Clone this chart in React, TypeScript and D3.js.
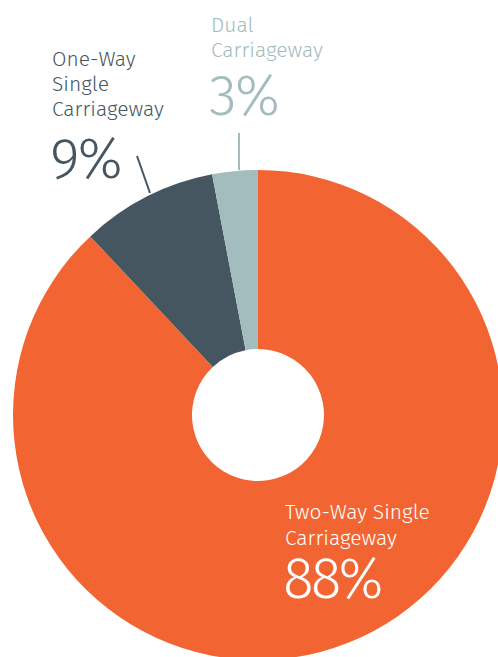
import React from "react";
import * as d3 from "d3";

const categories = ["Two-Way Single Carriageway", "One-Way Single Carriageway", "Dual Carriageway"];
const values = [88, 9, 3];
const colors = ["#f26532", "#465661", "#a3bcbd"];

export default function App() {
  const W = 498, H = 657;
  const cx = 258, cy = 415, R = 245, r = 66;
  const pie = d3.pie<number>().sort(null).startAngle(0).endAngle(2 * Math.PI);
  const arcs = pie(values);
  const arc = d3.arc<d3.PieArcDatum<number>>().innerRadius(r).outerRadius(R);
  const font = "'Fira Sans', Roboto, 'Noto Sans', sans-serif";
  return (
    <svg width={W} height={H} style={{ position: "absolute", left: 0, top: 0 }} fontFamily={font}>
      <g transform={`translate(${cx},${cy})`}>
        {arcs.map((a, i) => (
          <path key={i} d={arc(a) || ""} fill={colors[i]} />
        ))}
      </g>
      <g fontWeight={300} fill="#465661">
        <text x={52} y={66} fontSize={21}>One-Way</text>
        <text x={52} y={91} fontSize={21}>Single</text>
        <text x={52} y={116} fontSize={21}>Carriageway</text>
        <text x={50} y={178} fontSize={57} letterSpacing={-2}>{values[1]}%</text>
      </g>
      <line x1={137} y1={156} x2={150} y2={193} stroke="#465661" strokeWidth={2} />
      <g fontWeight={300} fill="#a3bcbd">
        <text x={211} y={32} fontSize={21}>Dual</text>
        <text x={211} y={57} fontSize={21}>Carriageway</text>
        <text x={209} y={115} fontSize={57} letterSpacing={-2}>{values[2]}%</text>
      </g>
      <line x1={239} y1={133} x2={239} y2={170} stroke="#a3bcbd" strokeWidth={2} />
      <g fontWeight={300} fill="#ffffff">
        <text x={285} y={519} fontSize={21}>Two-Way Single</text>
        <text x={285} y={545} fontSize={21}>Carriageway</text>
        <text x={283} y={598} fontSize={57} letterSpacing={-3}>{values[0]}%</text>
      </g>
    </svg>
  );
}
